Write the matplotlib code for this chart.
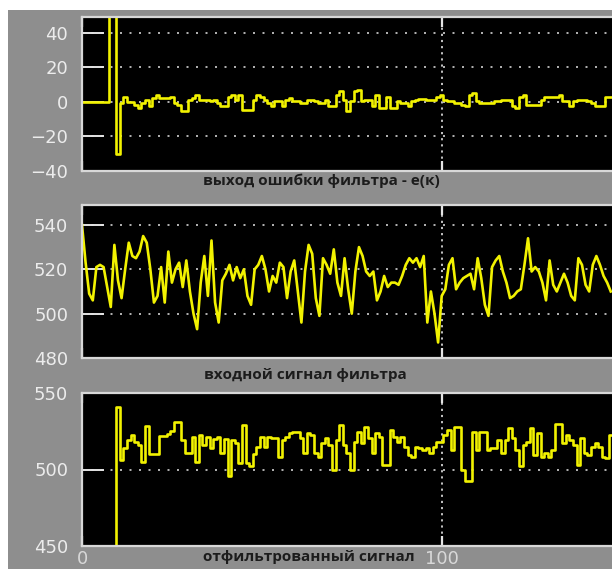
import matplotlib
matplotlib.use('Agg')
import matplotlib.pyplot as plt
import numpy as np
from matplotlib.patches import Rectangle

# выход ошибки фильтра e(k)
err = [0, 0, 0, 0, 0, 0, 0, 0, 510, 510,
       -30, -0.8, 3, 0, 0, -2, -3.5, -0.8, 1.2, -2.7,
       2, 4, 2, 2, 2, 3, -0.8, -1.8, -5.6, -5.6,
       1.2, 2, 4, 1.2, 1.2, 1.2, 0.2, 1.2, -0.8, -2.7,
       -2.7, 3, 4, 1.2, 4, -4.7, -4.7, -4.7, 1.2, 4,
       3, 1.2, -0.8, -2.7, 0.2, 0.2, -2.7, 1.2, 2, 0.2,
       0.2, -0.8, -0.8, 1.2, 1.2, 0.2, -0.8, -0.8, 1.2, -2.7,
       -2.7, 4, 6, 1.2, -5.6, 0.2, 6, 7, 0.2, 1.2,
       1.2, -2.7, 4, -3.7, -3.7, 3, -3.7, -3.7, 0.2, -0.8,
       -0.8, -2.7, 0.2, 1.2, 1.6, 1.6, 1.2, 1.2, 1.2, 3,
       4, 1.2, 0.2, 0.2, -0.8, -0.8, -1.8, -2.7, 4, 5,
       0.2, -0.8, -0.8, -0.8, -0.8, 0.2, 0.2, 1.2, 1.2, 1.2,
       -2.7, -3.7, 3, 4, -1.8, -1.8, -1.8, -1.8, 1.2, 3,
       3, 3, 3, 4, 0.2, 0.2, -2.7, 0.2, 1.2, 1.2,
       1.2, 0.2, -0.8, -2.7, -2.7, -2.7, 3, 3]

# входной сигнал фильтра
inp = [540, 523, 509, 506, 521, 522, 521, 512, 503, 531,
       515, 507, 520, 532, 526, 525, 528, 535, 532, 520,
       505, 508, 521, 505, 528, 514, 520, 523, 512, 524,
       510, 500, 493, 514, 526, 508, 533, 505, 496, 515,
       518, 522, 515, 521, 516, 520, 508, 504, 520, 522,
       526, 520, 510, 517, 514, 523, 521, 507, 519, 524,
       510, 496, 519, 531, 527, 507, 499, 525, 522, 518,
       529, 514, 508, 525, 511, 500, 519, 530, 526, 519,
       517, 519, 506, 510, 517, 512, 514, 514, 513, 517,
       522, 525, 523, 525, 521, 526, 496, 510, 500, 487,
       508, 511, 522, 525, 511, 514, 516, 517, 518, 511,
       525, 516, 504, 499, 521, 524, 526, 519, 514, 507,
       508, 510, 511, 522, 534, 519, 521, 519, 514, 506,
       524, 513, 510, 514, 518, 514, 508, 506, 525, 522,
       513, 510, 522, 526, 522, 517, 514, 510]

# отфильтрованный сигнал
filt = [0, 0, 0, 0, 0, 0, 0, 0, 0, 0,
        541, 506, 514, 519.5, 522.7, 518, 516, 505, 528.5, 510,
        510, 510, 522, 522, 523, 525, 531, 531, 519.5, 510.8,
        510.8, 521, 505, 522.7, 516, 521, 514, 520, 521, 511,
        520, 496, 519.5, 517, 504, 529, 504, 502, 510, 515,
        521.4, 515, 521.4, 520.3, 520.3, 508.4, 519.3, 521.4, 523.6, 524.7,
        524.7, 520.3, 510.6, 523.6, 522.5, 510.6, 508.4, 517, 520.3, 516,
        500, 519.3, 529, 516, 510.6, 500, 518, 524.7, 517, 528,
        520.3, 510.6, 523.6, 521.4, 503, 503, 525.8, 521.4, 518, 521.4,
        514.9, 509.5, 508.4, 514.9, 513.8, 512.8, 513.8, 510.6, 514.9, 518,
        518, 522.5, 525.8, 512.8, 528, 528, 500, 492.4, 492.4, 524.7,
        512.5, 524.7, 524.7, 512.8, 513.8, 513.8, 519.3, 510.6, 519.3, 526.9,
        520.3, 512.8, 502, 516, 518.2, 526.9, 509.5, 523.6, 508.4, 510.6,
        508.4, 512.8, 530, 530, 517, 522.5, 519.3, 516, 503, 520.3,
        510.6, 509.5, 514.9, 517, 514.9, 508.4, 507.3, 522.5]

labels = ['выход ошибки фильтра - е(к)', 'входной сигнал фильтра', 'отфильтрованный сигнал']
ylims = [(-40, 49), (480, 549), (450, 550)]
yticks = [[-40, -20, 0, 20, 40], [480, 500, 520, 540], [450, 500, 550]]

t = np.arange(len(inp))

W, H = 612, 569
fig = plt.figure(figsize=(W / 100, H / 100), dpi=100)
fig.patch.set_facecolor('white')
fig.patches.append(Rectangle((8 / W, 0), 1, (H - 10) / H, transform=fig.transFigure,
                             facecolor='#8e8e8e', edgecolor='none', zorder=-10))

# (top, bottom) in pixels of each panel
boxes = [(17, 171), (205, 358), (393, 546)]
axes = []
for (top, bot) in boxes:
    ax = fig.add_axes([82 / W, (H - bot) / H, (622 - 82) / W, (bot - top) / H])
    axes.append(ax)

grid_col = '#d2d2d2'
for i, ax in enumerate(axes):
    ax.set_facecolor('black')
    ax.set_xlim(0, (622 - 82) / 3.597)
    ax.set_ylim(*ylims[i])
    ax.set_yticks(yticks[i])
    ax.set_xticks([0, 100])
    for s in ['left', 'top', 'bottom']:
        ax.spines[s].set_color('#d8d8d8')
        ax.spines[s].set_linewidth(1.6)
    ax.spines['right'].set_visible(False)
    ax.tick_params(axis='y', direction='in', length=16, width=1.4, color='#e4e4e4',
                   labelcolor='#ececec', labelsize=13, pad=10)
    ax.tick_params(axis='x', direction='in', length=7, width=1.6, color='#e4e4e4',
                   top=True, bottom=True, labelbottom=(i == 2),
                   labelcolor='#d8d8d8', labelsize=13, pad=3)
    ax.yaxis.grid(True, color=grid_col, linestyle=(0, (1.2, 4.5)), linewidth=1.2)
    ax.xaxis.grid(True, color=grid_col, linestyle=(0, (1.2, 2.2)), linewidth=1.3)

axes[0].step(t, err, where='mid', color='#f2f200', linewidth=1.9)
axes[1].plot(t, inp, color='#f2f200', linewidth=1.9)
axes[2].step(t, filt, where='mid', color='#f2f200', linewidth=1.9)

label_pos = [(321, 181), (305, 375), (309, 557)]
for (x, y), txt in zip(label_pos, labels):
    fig.text(x / W, 1 - y / H, txt, ha='center', va='center', fontsize=11,
             fontweight='bold', color='#1c1c1c', family=['Open Sans', 'DejaVu Sans'])

plt.savefig('out.png', dpi=100)
